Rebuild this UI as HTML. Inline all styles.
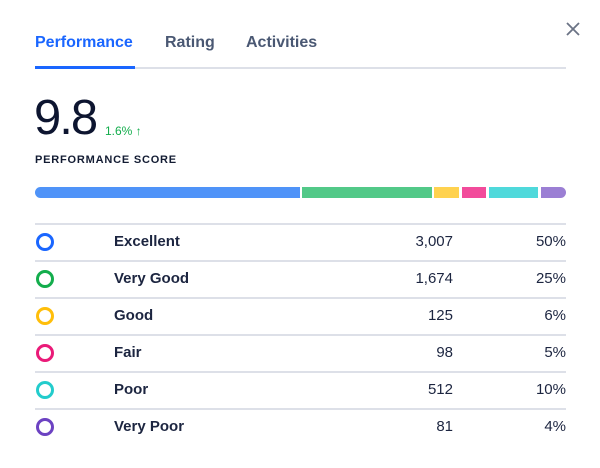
<!DOCTYPE html>
<html><head><style>
body{margin:0;width:600px;height:468px;background:#fff;font-family:"Liberation Sans",sans-serif;position:relative;overflow:hidden;color:#101828}
.a{position:absolute}
.tab{top:34px;font-size:16px;font-weight:bold;color:#4a5873}
.row{position:absolute;left:35px;width:531px;height:37px;border-top:2px solid #dde0e8}
.c{position:absolute;left:1px;top:8px;width:12px;height:12px;border-radius:50%;border:3px solid}
.l{position:absolute;left:79px;top:8px;font-size:15px;font-weight:bold;color:#1c2540}
.n{position:absolute;right:113px;top:8px;font-size:15px;color:#1c2540}
.p{position:absolute;right:0;top:8px;font-size:15px;color:#1c2540}
.seg{position:absolute;top:187px;height:11px}
</style></head><body>
<div class="a tab" style="left:35px;color:#1a66ff">Performance</div>
<div class="a tab" style="left:165px">Rating</div>
<div class="a tab" style="left:246px">Activities</div>
<svg class="a" style="left:566px;top:22px" width="14" height="14"><path d="M1 1L13 13M13 1L1 13" stroke="#6b7385" stroke-width="1.8"/></svg>
<div class="a" style="left:35px;top:67px;width:531px;height:2px;background:#dde0e8"></div>
<div class="a" style="left:35px;top:66px;width:100px;height:3px;background:#1a66ff"></div>
<div class="a" style="left:34px;top:94px;font-size:49px;line-height:49px;color:#0d1530;letter-spacing:-2px">9.8</div>
<div class="a" style="left:105px;top:124px;font-size:12px;color:#13ad4c">1.6% ↑</div>
<div class="a" style="left:35px;top:154px;font-size:11px;font-weight:bold;letter-spacing:0.8px;color:#131c33">PERFORMANCE SCORE</div>
<div class="seg" style="left:35px;width:265px;background:#4f93f8;border-radius:6px 0 0 6px"></div>
<div class="seg" style="left:302px;width:130px;background:#52c988"></div>
<div class="seg" style="left:434px;width:25px;background:#ffd24f"></div>
<div class="seg" style="left:462px;width:24px;background:#f24b9b"></div>
<div class="seg" style="left:489px;width:49px;background:#4fd9db"></div>
<div class="seg" style="left:541px;width:25px;background:#9b7fd4;border-radius:0 6px 6px 0"></div>
<div class="row" style="top:223px"><div class="c" style="border-color:#1a66ff"></div><div class="l">Excellent</div><div class="n">3,007</div><div class="p">50%</div></div>
<div class="row" style="top:260px"><div class="c" style="border-color:#13ad4c"></div><div class="l">Very Good</div><div class="n">1,674</div><div class="p">25%</div></div>
<div class="row" style="top:297px"><div class="c" style="border-color:#ffbe0a"></div><div class="l">Good</div><div class="n">125</div><div class="p">6%</div></div>
<div class="row" style="top:334px"><div class="c" style="border-color:#ea1a78"></div><div class="l">Fair</div><div class="n">98</div><div class="p">5%</div></div>
<div class="row" style="top:371px"><div class="c" style="border-color:#22cccc"></div><div class="l">Poor</div><div class="n">512</div><div class="p">10%</div></div>
<div class="row" style="top:408px"><div class="c" style="border-color:#6c42c2"></div><div class="l">Very Poor</div><div class="n">81</div><div class="p">4%</div></div>
</body></html>
